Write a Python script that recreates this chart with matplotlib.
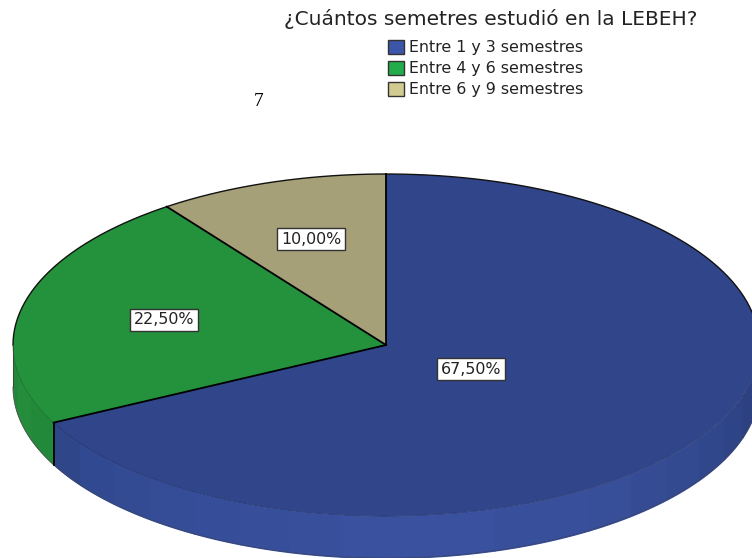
import numpy as np
import matplotlib
matplotlib.use("Agg")
from matplotlib import pyplot as plt
from matplotlib.patches import Patch

title = "¿Cuántos semetres estudió en la LEBEH?"
categories = ["Entre 1 y 3 semestres", "Entre 4 y 6 semestres", "Entre 6 y 9 semestres"]
values = [67.5, 22.5, 10.0]
value_labels = ["67,50%", "22,50%", "10,00%"]
top_colors = ["#30458A", "#24913C", "#A5A077"]
legend_colors = ["#3B55A8", "#22AD4A", "#D2CB90"]

# wall shades, going round the front of the pie from the blue/green edge
blue_wall = ["#2F4688", "#314990", "#334B93", "#344D96", "#364E99", "#374F9B", "#38509C", "#39519E",
             "#39519E", "#39519E", "#38509C", "#384F9B", "#374E99", "#354C95", "#334A91", "#31478C",
             "#2F4486", "#2D4180", "#2C3E7A", "#2B3C76"]
green_wall = ["#23863A", "#258C3C", "#23893A"]

# pixel geometry of the picture
W, H = 752, 558
cx, cy, rx, ry, wall = 386, 345, 373, 171, 42
depth = wall / ry
label_px = [(471, 369), (164, 320), (311, 239)]

plt.rcParams['font.family'] = ['DejaVu Sans']
fig = plt.figure(figsize=(W / 100, H / 100), dpi=100)
ax = fig.add_axes([0, 0, 1, 1])


def px_x(x):
    return (x - cx) / rx


def px_y(y):
    return (cy - y) / ry


def wall_band(a0, a1, color):
    t = np.radians(np.linspace(a0, a1, 30))
    y = np.sin(t)
    ax.fill_between(np.cos(t), y, y - depth, facecolor=color, edgecolor=color, lw=0.8, zorder=1)


def arc(a0, a1, y0=0.0, color="black", lw=1.0):
    t = np.radians(np.linspace(a0, a1, 100))
    ax.plot(np.cos(t), np.sin(t) + y0, color=color, lw=lw, zorder=4)


# slice edges, clockwise from the top
ends = 90 - np.cumsum(values) * 3.6
blue_end = ends[0] + 360

a = blue_end
for c in blue_wall:
    wall_band(a, min(a + 8, 360), c)
    a += 8
a = 180
for c in green_wall:
    wall_band(a, min(a + 9, blue_end), c)
    a += 9

ax.pie(values, colors=top_colors, startangle=90, counterclock=False, radius=1,
       wedgeprops={"linewidth": 0, "zorder": 2})

# outlines
arc(0, 180, color="#111111", lw=1.0)
arc(180, blue_end, color="#1C6A2E", lw=0.4)
arc(blue_end, 360, color="#26356F", lw=0.5)
arc(180, blue_end, -depth, color="#555555", lw=0.6)
arc(blue_end, 360, -depth, color="#3A4468", lw=0.5)
ax.plot([-1, -1], [0, -depth], color="#444444", lw=0.7, zorder=4)
for e in [90, ends[0], ends[1]]:
    t = np.radians(e)
    ax.plot([0, np.cos(t)], [0, np.sin(t)], color="black", lw=1.3, zorder=5)
t = np.radians(ends[0])
ax.plot([np.cos(t), np.cos(t)], [np.sin(t), np.sin(t) - depth], color="black", lw=1.3, zorder=5)

for (lx, ly), s in zip(label_px, value_labels):
    ax.text(px_x(lx), px_y(ly), s, ha="center", va="center", fontsize=11.4, color="#222222", zorder=6,
            bbox={"boxstyle": "square,pad=0.25", "fc": "white", "ec": "#333333", "lw": 1})

ax.set_aspect("auto")
ax.set_xlim(px_x(0), px_x(W))
ax.set_ylim(px_y(H), px_y(0))
ax.axis("off")

ax.text(px_x(491), px_y(19), title, ha="center", va="center", fontsize=14.5, color="#222222")
ax.text(px_x(259), px_y(101), "7", ha="center", va="center", fontsize=14, color="black",
        family="Liberation Serif")

handles = [Patch(facecolor=c, edgecolor="#333333", linewidth=1) for c in legend_colors]
ax.legend(handles, categories, loc="upper left", bbox_to_anchor=(388 / W, 1 - 40 / H), frameon=False,
          fontsize=11.4, labelcolor="#222222", handlelength=1.0, handleheight=0.95, handletextpad=0.3,
          labelspacing=0.36, borderpad=0, borderaxespad=0)

fig.savefig("out.png", dpi=100)
